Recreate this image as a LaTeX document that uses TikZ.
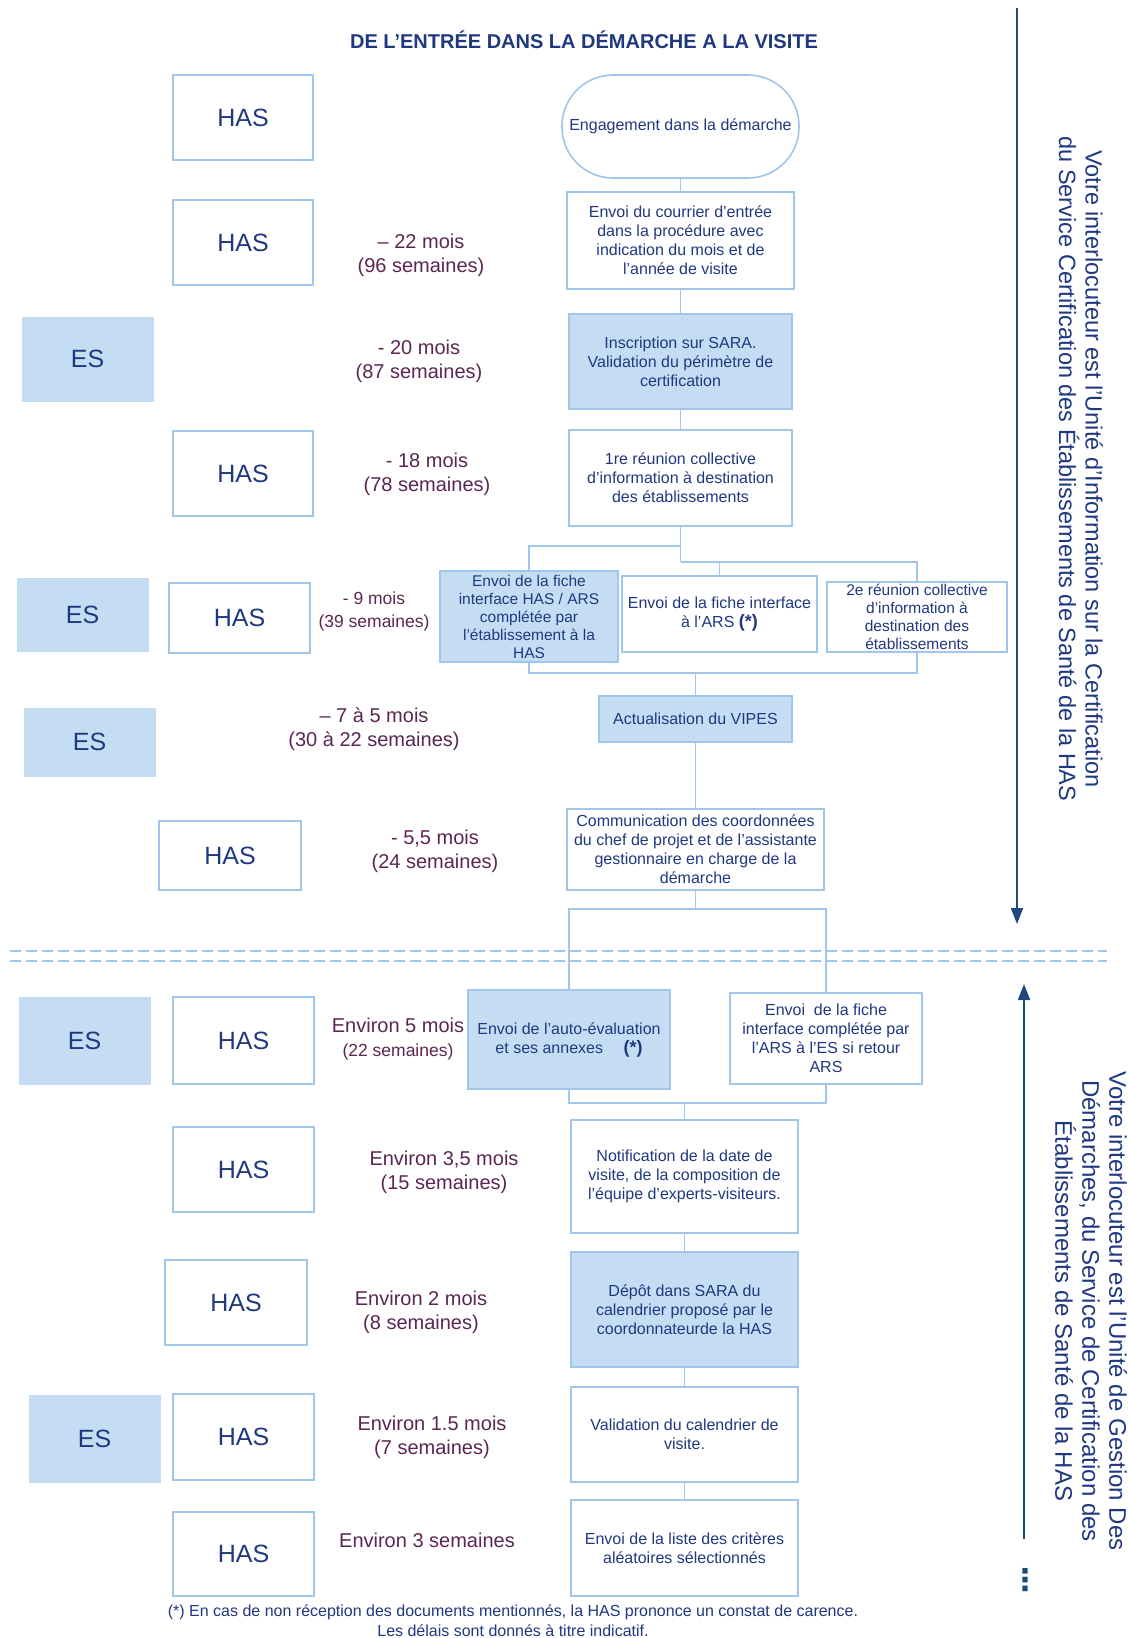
\documentclass[tikz,border=0pt]{standalone}
\usepackage{fontspec}
\setmainfont{Liberation Sans}
\newfontfamily\dejavu{DejaVu Sans}
\usetikzlibrary{arrows.meta}
\definecolor{bordc}{RGB}{160,198,236}
\definecolor{fillc}{RGB}{197,221,243}
\definecolor{txtc}{RGB}{32,56,128}
\definecolor{timec}{RGB}{92,38,82}
\definecolor{navyc}{RGB}{31,73,125}
\tikzset{
 hasbox/.style={draw=bordc, line width=1.6pt, fill=white, inner sep=0pt, font=\fontsize{25}{28}\selectfont, text=txtc},
 esbox/.style={draw=fillc, line width=1pt, fill=fillc, inner sep=0pt, font=\fontsize{25}{28}\selectfont, text=txtc},
 flow/.style={draw=bordc, line width=1.6pt, fill=white, inner sep=0pt, align=center, text=txtc, font=\fontsize{16}{19}\selectfont},
 flowf/.style={flow, fill=fillc},
 timelbl/.style={text=timec, align=center, inner sep=0pt, font=\fontsize{20}{24}\selectfont},
 conn/.style={draw=bordc, line width=1.6pt},
 sepline/.style={draw=bordc, line width=1.8pt, dash pattern=on 11pt off 5pt},
 navyarrow/.style={draw=navyc, line width=1.8pt, -{Triangle[length=16pt,width=12pt]}},
 vtext/.style={text=txtc, align=center, rotate=-90, inner sep=0pt, font=\fontsize{23.5}{26.5}\selectfont},
 foot/.style={text=txtc, align=center, inner sep=0pt, font=\fontsize{16}{20}\selectfont},
 titlestyle/.style={text=txtc, inner sep=0pt, font=\fontsize{20}{22}\selectfont\bfseries},
}
\begin{document}
\begin{tikzpicture}[x=1pt,y=-1pt]
\fill[white] (0,0) rectangle (1129,1638);
\useasboundingbox (0,0) rectangle (1129,1638);

% title
\node[titlestyle] (title) at (584,40) {DE L’ENTRÉE DANS LA DÉMARCHE A LA VISITE};

% separators
\coordinate (s1l) at (10,951); \coordinate (s1r) at (1107,951);
\coordinate (s2l) at (10,961); \coordinate (s2r) at (1107,961);
\draw[sepline] (s1l) -- (s1r);
\draw[sepline] (s2l) -- (s2r);

% left column
\node[hasbox, minimum width=140pt, minimum height=85pt] (has1) at (243,117.5) {HAS};
\node[hasbox, minimum width=140pt, minimum height=85pt] (has2) at (243,242.5) {HAS};
\node[esbox, minimum width=131pt, minimum height=84pt] (es1) at (87.5,359) {ES};
\node[hasbox, minimum width=140pt, minimum height=85pt] (has3) at (243,473.5) {HAS};
\node[esbox, minimum width=131pt, minimum height=73pt] (es2) at (82.5,614.5) {ES};
\node[hasbox, minimum width=141pt, minimum height=70pt] (has4) at (239.5,618) {HAS};
\node[esbox, minimum width=131pt, minimum height=68pt] (es3) at (89.5,742) {ES};
\node[hasbox, minimum width=142pt, minimum height=69pt] (has5) at (230,855.5) {HAS};
\node[esbox, minimum width=131pt, minimum height=87pt] (es4) at (84.5,1040.5) {ES};
\node[hasbox, minimum width=141pt, minimum height=87pt] (has6) at (243.5,1040.5) {HAS};
\node[hasbox, minimum width=141pt, minimum height=85pt] (has7) at (243.5,1169.5) {HAS};
\node[hasbox, minimum width=142pt, minimum height=85pt] (has8) at (236,1302.5) {HAS};
\node[esbox, minimum width=131pt, minimum height=87pt] (es5) at (94.5,1438.5) {ES};
\node[hasbox, minimum width=141pt, minimum height=86pt] (has9) at (243.5,1437) {HAS};
\node[hasbox, minimum width=141pt, minimum height=84pt] (has10) at (243.5,1554) {HAS};

% time labels
\node[timelbl] (t1) at (421,255) {– 22 mois\\(96 semaines)};
\node[timelbl] (t2) at (419,361) {- 20 mois\\(87 semaines)};
\node[timelbl] (t3) at (427,474) {- 18 mois\\(78 semaines)};
\node[timelbl, font=\fontsize{17.5}{23}\selectfont] (t4) at (374,611) {- 9 mois\\(39 semaines)};
\node[timelbl] (t5) at (374,729) {– 7 à 5 mois\\(30 à 22 semaines)};
\node[timelbl] (t6) at (435,851) {- 5,5 mois\\(24 semaines)};
\node[timelbl] (t7) at (398,1039) {Environ 5 mois\\{\fontsize{17.5}{22}\selectfont (22 semaines)}};
\node[timelbl] (t8) at (444,1172) {Environ 3,5 mois\\(15 semaines)};
\node[timelbl] (t9) at (421,1312) {Environ 2 mois\\(8 semaines)};
\node[timelbl] (t10) at (432,1437) {Environ 1.5 mois\\(7 semaines)};
\node[timelbl] (t11) at (427,1540) {Environ 3 semaines};

% junction points
\coordinate (ja) at (680.5,546);
\coordinate (jc) at (680.5,562);
\coordinate (jb) at (695.5,673);
\coordinate (jd) at (695.5,909);
\coordinate (je) at (684.5,1103);

% flow boxes
\node[flow, rounded corners=51pt, minimum width=237pt, minimum height=103pt] (pill) at (680.5,126.5) {Engagement dans la démarche};
\node[flow, minimum width=227pt, minimum height=97pt] (courrier) at (680.5,240.5) {Envoi du courrier d’entrée\\dans la procédure avec\\indication du mois et de\\l’année de visite};
\node[flowf, minimum width=223pt, minimum height=95pt] (sara) at (680.5,361.5) {Inscription sur SARA.\\Validation du périmètre de\\certification};
\node[flow, minimum width=223pt, minimum height=96pt] (reunion1) at (680.5,478) {1re réunion collective\\d’information à destination\\des établissements};

\draw[conn] (pill.south) -- (courrier.north);
\draw[conn] (courrier.south) -- (sara.north);
\draw[conn] (sara.south) -- (reunion1.north);
\draw[conn] (reunion1.south) -- (jc);
\draw[conn] (ja) -| (529,571);
\draw[conn] (jc) -| (917,582);
\draw[conn] (719.5,562) -- (719.5,576);
\draw[conn] (529,571) -- (529,673) -| (917,652);
\draw[conn] (jb) -- (695.5,696);

\node[flowf, minimum width=178pt, minimum height=91pt, font=\fontsize{15.5}{18}\selectfont] (ficheHAS) at (529,616.5) {Envoi de la fiche\\interface HAS / ARS\\complétée par\\l’établissement à la\\HAS};
\node[flow, minimum width=195pt, minimum height=76pt] (ficheARS) at (719.5,614) {Envoi de la fiche interface\\à l’ARS {\bfseries\fontsize{18}{19}\selectfont(*)}};
\node[flow, minimum width=180pt, minimum height=70pt, font=\fontsize{15.5}{18}\selectfont] (reunion2) at (917,617) {2e réunion collective\\d’information à\\destination des\\établissements};
\node[flowf, minimum width=193pt, minimum height=46pt] (vipes) at (695.5,719) {Actualisation du VIPES};
\node[flow, minimum width=257pt, minimum height=81pt] (comm) at (695.5,849.5) {Communication des coordonnées\\du chef de projet et de l’assistante\\gestionnaire en charge de la\\démarche};

\draw[conn] (vipes.south) -- (comm.north);
\draw[conn] (comm.south) -- (jd);
\draw[conn] (569,990) |- (jd) -| (826,993);

\node[flowf, minimum width=202pt, minimum height=99pt] (autoeval) at (569,1039.5) {Envoi de l’auto-évaluation\\et ses annexes \quad{\bfseries\fontsize{18}{19}\selectfont(*)}};
\node[flow, minimum width=192pt, minimum height=91pt] (ficheES) at (826,1038.5) {Envoi\ \ de la fiche\\interface complétée par\\l’ARS à l’ES si retour\\ARS};
\node[flow, minimum width=227pt, minimum height=113pt] (notif) at (684.5,1176.5) {Notification de la date de\\visite, de la composition de\\l’équipe d’experts-visiteurs.};
\node[flowf, minimum width=227pt, minimum height=115pt] (depot) at (684.5,1309.5) {Dépôt dans SARA du\\calendrier proposé par le\\coordonnateurde la HAS};
\node[flow, minimum width=227pt, minimum height=95pt] (valid) at (684.5,1434.5) {Validation du calendrier de\\visite.};
\node[flow, minimum width=227pt, minimum height=96pt] (liste) at (684.5,1548) {Envoi de la liste des critères\\aléatoires sélectionnés};

\draw[conn] (autoeval.south) |- (je) -| (ficheES.south);
\draw[conn] (je) -- (notif.north);
\draw[conn] (notif.south) -- (depot.north);
\draw[conn] (depot.south) -- (valid.north);
\draw[conn] (valid.south) -- (liste.north);

% side arrows and texts
\coordinate (a1s) at (1017,8); \coordinate (a1e) at (1017,924);
\draw[navyarrow] (a1s) -- (a1e);
\coordinate (a2s) at (1024,1539); \coordinate (a2e) at (1024,984);
\draw[navyarrow] (a2s) -- (a2e);
\node[text=navyc, inner sep=0pt, font=\dejavu\bfseries\fontsize{30}{30}\selectfont] (dots) at (1025,1580) {⋮};

\node[vtext] (v1) at (1081,469) {Votre interlocuteur est l’Unité d’Information sur la Certification\\du Service Certification des Établissements de Santé de la HAS};
\node[vtext, font=\fontsize{24}{27}\selectfont] (v2) at (1091,1311) {Votre interlocuteur est l’Unité de Gestion Des\\Démarches, du Service de Certification des\\Établissements de Santé de la HAS};

% footnote
\node[foot] (fn) at (513,1621) {(*) En cas de non réception des documents mentionnés, la HAS prononce un constat de carence.\\Les délais sont donnés à titre indicatif.};
\end{tikzpicture}
\end{document}
